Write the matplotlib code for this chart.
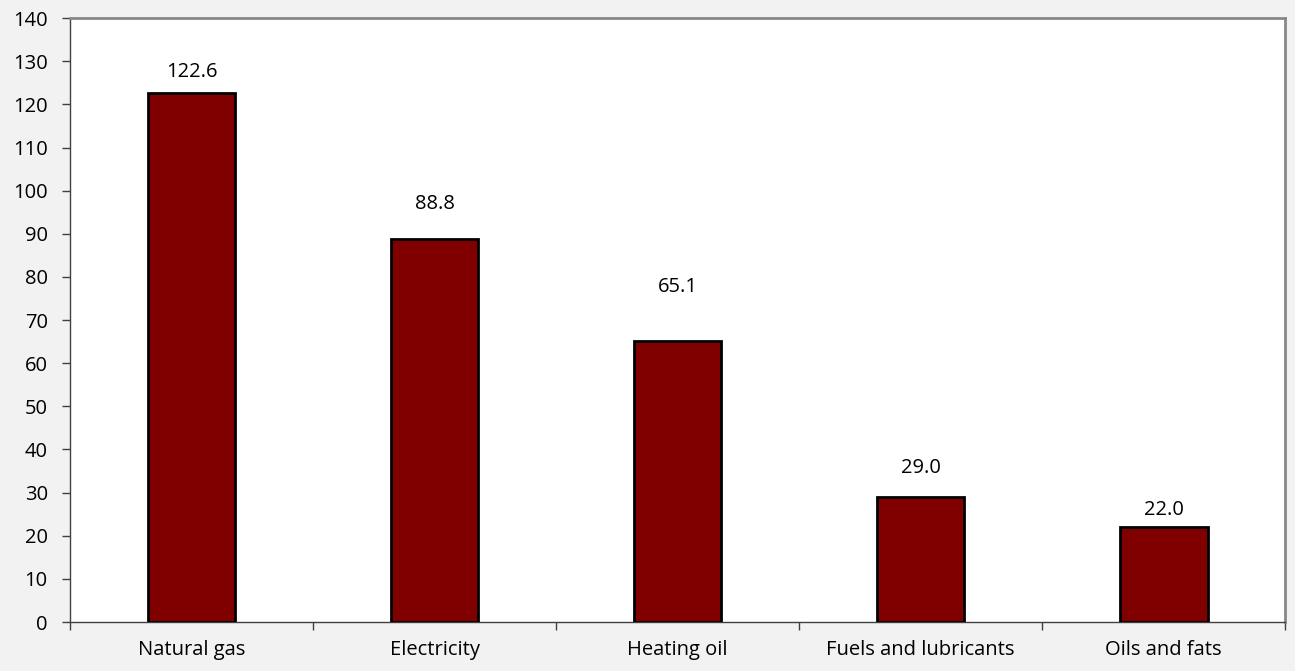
import matplotlib.pyplot as plt

categories = ["Natural gas", "Electricity", "Heating oil", "Fuels and lubricants", "Oils and fats"]
values = [122.6, 88.8, 65.1, 29.0, 22.0]
y_ticks = list(range(0, 141, 10))

# label lift above each bar top, in pixels
label_lift = [21, 35, 54, 29, 17]

plt.rcParams['font.family'] = ['Open Sans', 'DejaVu Sans']
font_size = 14.5

fig = plt.figure(figsize=(12.95, 6.71), dpi=100, facecolor='#f2f2f2')
ax = fig.add_axes([0.054, 0.073, 0.9385, 0.9])
ax.set_facecolor('white')

x = range(len(categories))
ax.bar(x, values, width=0.36, color='#800000', edgecolor='black', linewidth=2, zorder=3)

for xi, v, lift in zip(x, values, label_lift):
    ax.annotate(f"{v:.1f}", (xi, v), xytext=(0, lift), textcoords='offset pixels',
                ha='center', va='center', fontsize=font_size)

ax.set_xlim(-0.5, len(categories) - 0.5)
ax.set_ylim(0, 140)
ax.set_yticks(y_ticks)
ax.tick_params(axis='y', labelsize=font_size, length=6, width=1, color='#404040', direction='out', pad=10)

ax.set_xticks([i - 0.5 for i in range(len(categories) + 1)])
ax.set_xticklabels([])
ax.set_xticks(list(x), minor=True)
ax.set_xticklabels(categories, minor=True, fontsize=font_size)
ax.tick_params(axis='x', which='major', length=6, width=1, color='#404040')
ax.tick_params(axis='x', which='minor', length=0, pad=13)

for side in ('left', 'bottom'):
    ax.spines[side].set_color('#404040')
    ax.spines[side].set_linewidth(1)
for side in ('top', 'right'):
    ax.spines[side].set_color('#888888')
    ax.spines[side].set_linewidth(2)

fig.savefig('out.png', dpi=100, facecolor=fig.get_facecolor())
